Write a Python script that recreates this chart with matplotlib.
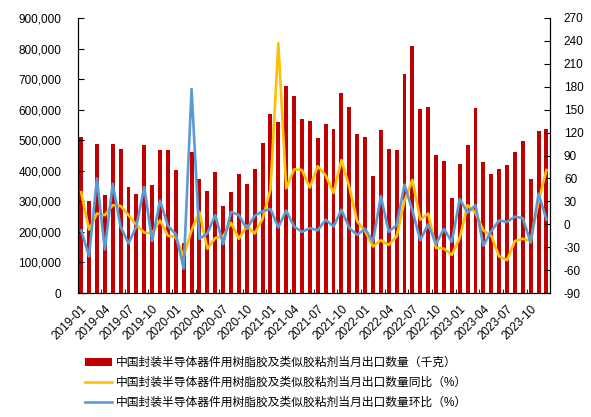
import numpy as np
import matplotlib
matplotlib.use("Agg")
import matplotlib.pyplot as plt
from matplotlib.ticker import FuncFormatter, FixedLocator

plt.rcParams['font.family'] = ['Liberation Sans', 'Noto Sans CJK SC']
plt.rcParams['axes.unicode_minus'] = False

# monthly labels 2019-01 .. 2023-12
months = [f"{y}-{m:02d}" for y in range(2019, 2024) for m in range(1, 13)]

# export volume (kg)
volume = [512000, 301000, 487000, 321000, 487000, 472000, 348000, 324000, 483000, 352000, 467000, 467000,
          403000, 165000, 460000, 373000, 333000, 396000, 284000, 332000, 388000, 357000, 407000, 490000,
          586000, 559000, 678000, 646000, 570000, 562000, 507000, 554000, 538000, 653000, 609000, 519000,
          511000, 384000, 534000, 470000, 467000, 718000, 809000, 603000, 609000, 452000, 431000, 312000,
          423000, 483000, 605000, 430000, 388000, 407000, 419000, 462000, 499000, 372000, 530000, 538000]

# year-on-year (%)
yoy = [42, -7, 14, 12, 25, 24, 12, -1, -11, -12, 5, -15,
       -17, -42, -8, 16, -32, -18, -16, 2, -19, -2, -12, 7,
       45, 237, 47, 72, 71, 48, 76, 64, 41, 84, 49, 4,
       -9, -29, -21, -27, -16, 31, 58, 6, 14, -31, -32, -40,
       -18, 25, 15, -8, -15, -42, -47, -22, -19, -22, 30, 71]

# month-on-month (%)
mom = [-8, -42, 60, -33, 53, -3, -25, -3, 49, -22, 31, -2,
       -13, -58, 177, -19, -12, 12, -26, 16, 12, -6, 11, 17,
       20, -4, 18, -3, -10, -5, -8, 6, -3, 19, -5, -14,
       -6, -23, 37, -10, -1, 52, 18, -21, 0, -26, -6, -23,
       33, 15, 25, -28, -9, 5, 3, 10, 8, -24, 40, 6]

label_bar = "中国封装半导体器件用树脂胶及类似胶粘剂当月出口数量（千克）"
label_yoy = "中国封装半导体器件用树脂胶及类似胶粘剂当月出口数量同比（%）"
label_mom = "中国封装半导体器件用树脂胶及类似胶粘剂当月出口数量环比（%）"

x = np.arange(len(months))

fig = plt.figure(figsize=(5.91, 4.17), dpi=100)
ax = fig.add_axes([78 / 591, 1 - 293 / 417, (550 - 78) / 591, (293 - 18) / 417])
ax2 = ax.twinx()

bars = ax.bar(x, volume, width=0.5, color="#C00000", label=label_bar)
l1, = ax2.plot(x, yoy, color="#FFC000", lw=1.9, label=label_yoy)
l2, = ax2.plot(x, mom, color="#5B9BD5", lw=1.9, label=label_mom)

ax.set_xlim(-0.4, 59.45)
ax.set_ylim(0, 900000)
ax.set_yticks(np.arange(0, 900001, 100000))
ax.yaxis.set_major_formatter(FuncFormatter(lambda v, p: f"{int(v):,}"))
ax2.set_ylim(-90, 270)
ax2.set_yticks(np.arange(-90, 271, 30))

ax.set_xticks(x[::3])
ax.set_xticklabels(months[::3], rotation=45, ha="right", rotation_mode="anchor")
ax.xaxis.set_minor_locator(FixedLocator(np.arange(2.5, 59, 3)))
ax.tick_params(axis="x", which="major", length=0, labelsize=8.5, pad=7)
ax.tick_params(axis="x", which="minor", length=3, direction="in")
ax.tick_params(axis="y", direction="in", length=4, labelsize=8.5, pad=12)
ax2.tick_params(axis="y", direction="in", length=4, labelsize=8.5, pad=10)

for a in (ax, ax2):
    a.spines["top"].set_visible(False)
    for s in ("left", "right", "bottom"):
        a.spines[s].set_linewidth(0.8)

fig.legend(handles=[bars, l1, l2], loc="upper left", bbox_to_anchor=(85 / 591, 1 - 357 / 417),
           frameon=False, fontsize=8.5, borderpad=0, borderaxespad=0,
           handlelength=2.3, handletextpad=0.3, labelspacing=0.68)

fig.savefig("out.png", dpi=100)
